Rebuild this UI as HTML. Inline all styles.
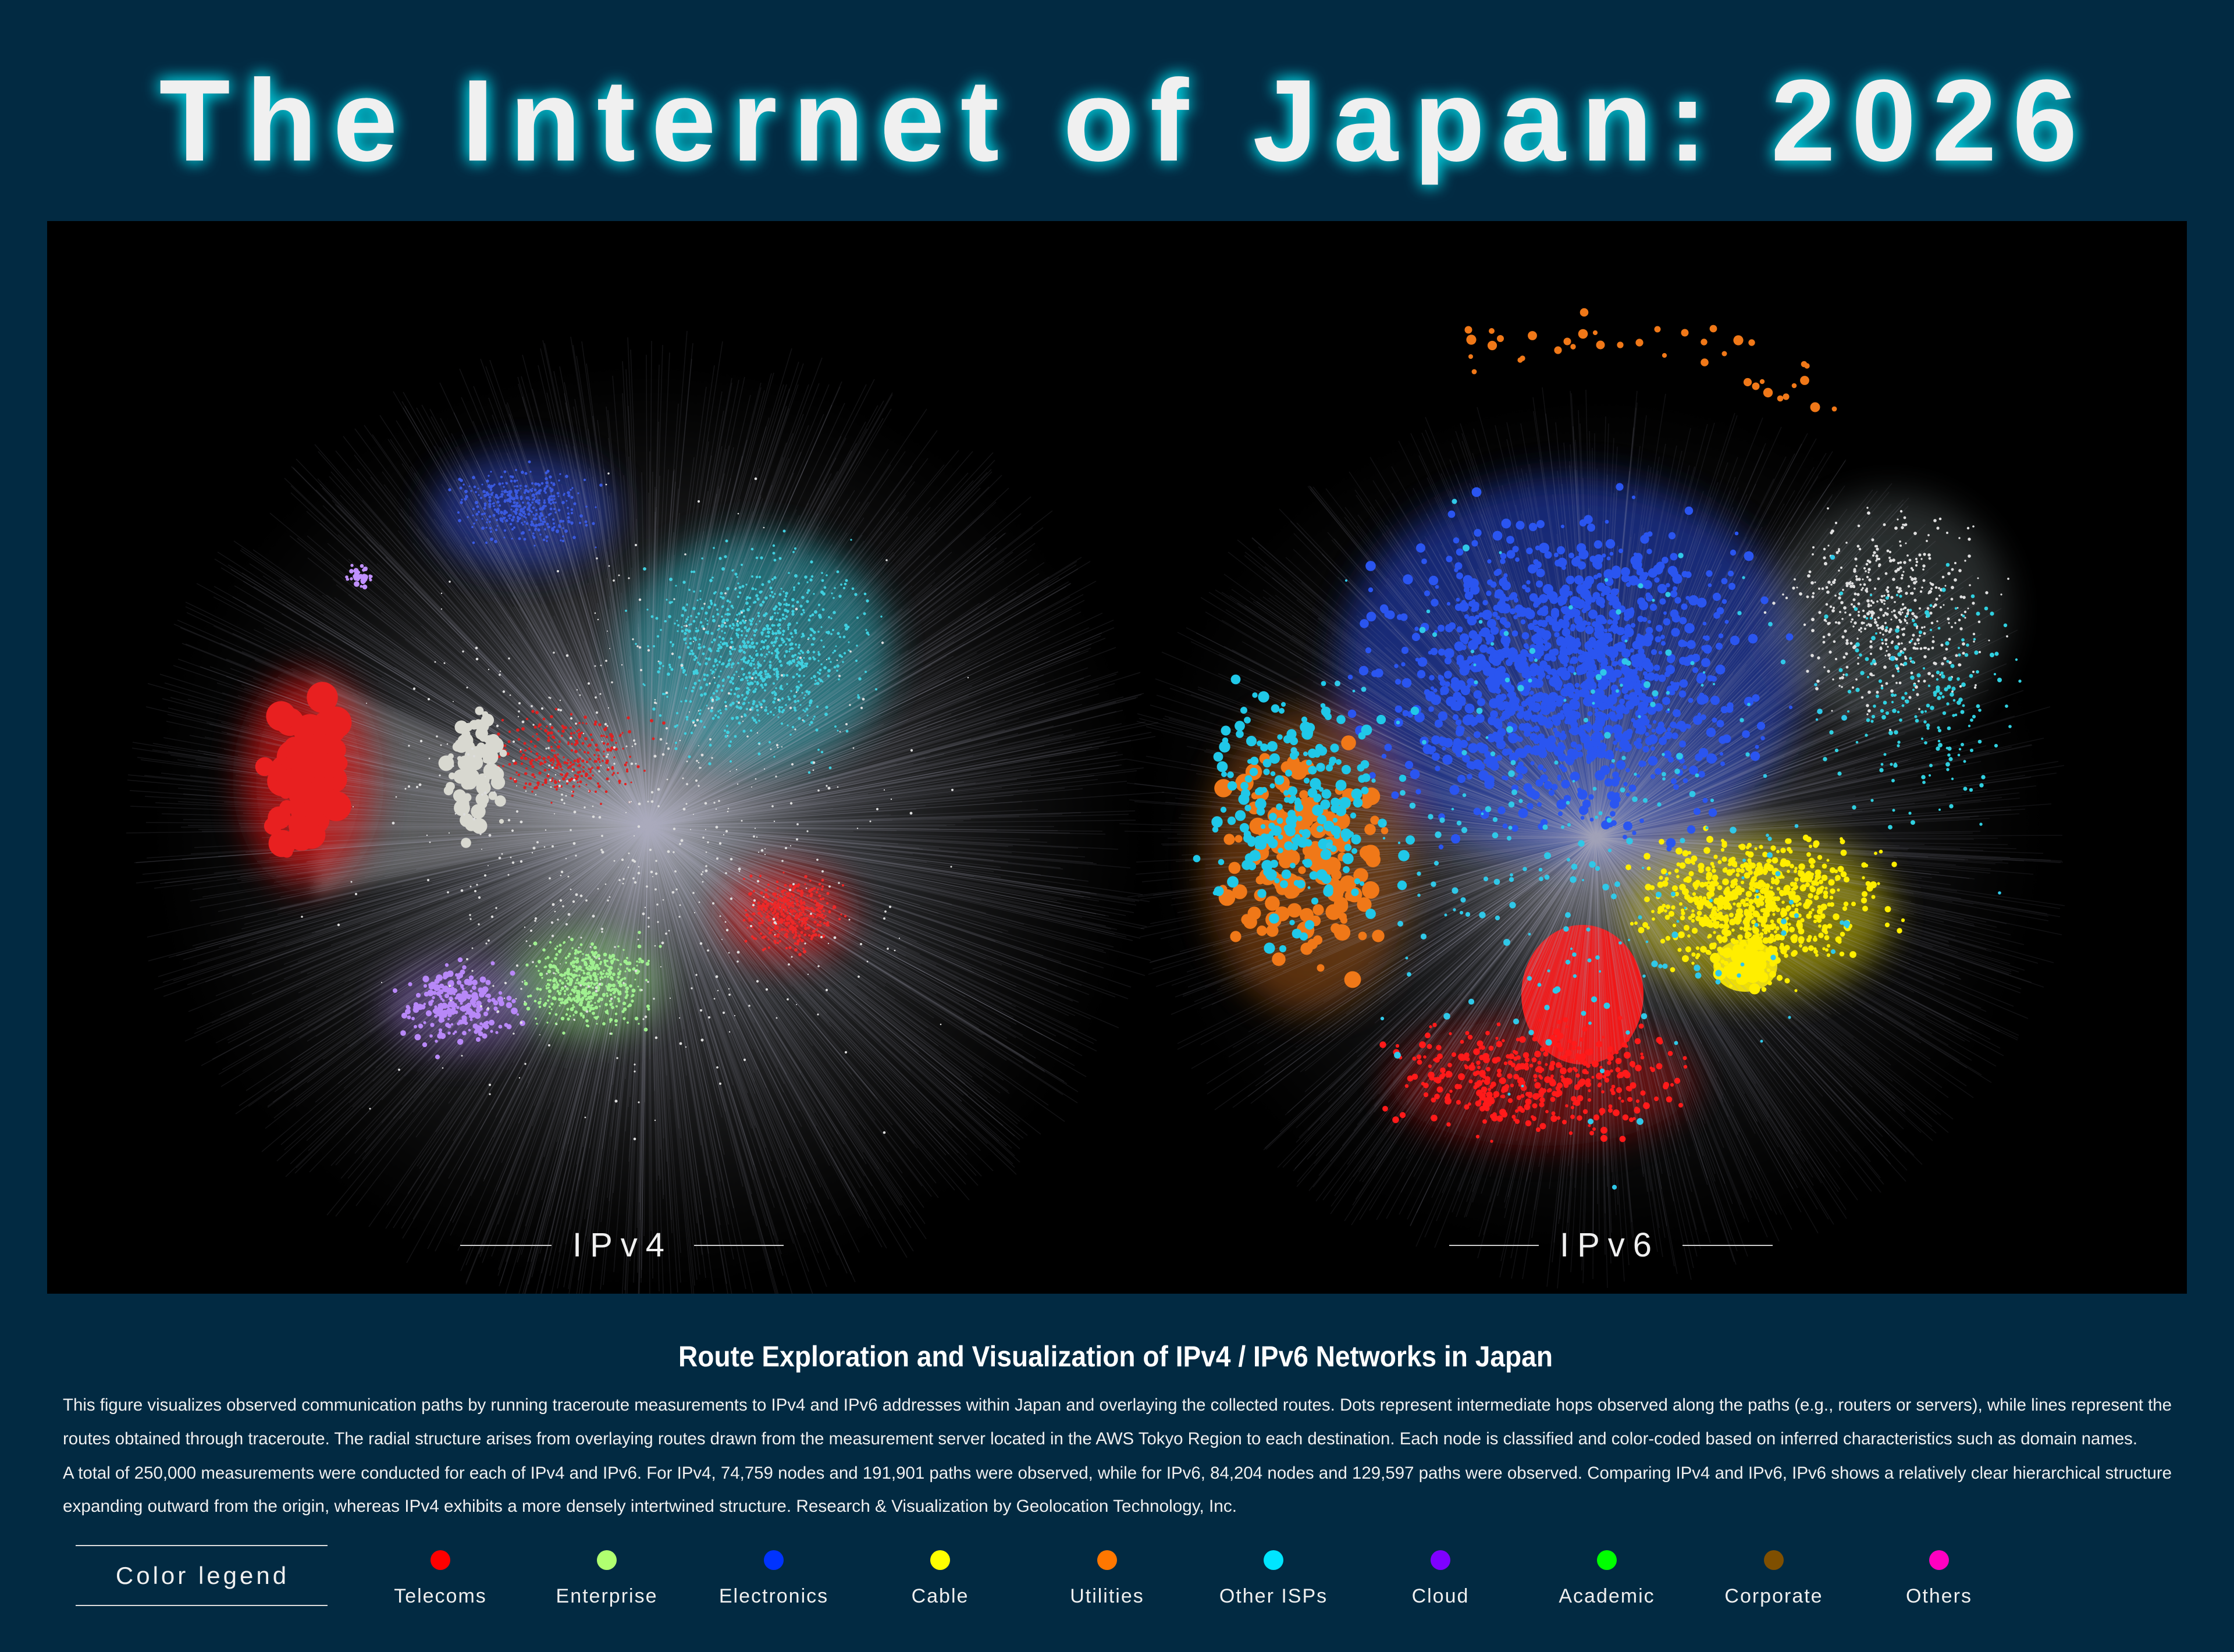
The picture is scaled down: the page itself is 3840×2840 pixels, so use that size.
<!DOCTYPE html>
<html><head><meta charset="utf-8">
<style>
html,body{margin:0;padding:0;background:#022a42;}
svg{display:block;}
text{font-family:"Liberation Sans","Noto Sans CJK JP",sans-serif;}
</style></head>
<body>
<svg id="s" width="3840" height="2840" viewBox="0 0 3840 2840" xmlns="http://www.w3.org/2000/svg">
<defs>
<filter id="glow" x="-10%" y="-30%" width="120%" height="160%">
<feGaussianBlur in="SourceAlpha" stdDeviation="14" result="b"/>
<feFlood flood-color="#00c8d8" flood-opacity="0.95"/>
<feComposite in2="b" operator="in" result="g"/>
<feMerge><feMergeNode in="g"/><feMergeNode in="g"/><feMergeNode in="SourceGraphic"/></feMerge>
</filter>
<filter id="blur" x="-50%" y="-50%" width="200%" height="200%"><feGaussianBlur stdDeviation="30"/></filter>
<filter id="sblur" x="-20%" y="-20%" width="140%" height="140%"><feGaussianBlur stdDeviation="12"/></filter>
<clipPath id="panel"><rect x="81" y="380" width="3678" height="1844"/></clipPath>
<radialGradient id="grey4"><stop offset="0" stop-color="#c8ccd4" stop-opacity="0.8"/><stop offset="0.35" stop-color="#8a8e96" stop-opacity="0.4"/><stop offset="1" stop-color="#333" stop-opacity="0"/></radialGradient>
<radialGradient id="grey6"><stop offset="0" stop-color="#c0c4cc" stop-opacity="0.7"/><stop offset="0.4" stop-color="#777a82" stop-opacity="0.3"/><stop offset="1" stop-color="#333" stop-opacity="0"/></radialGradient>
<linearGradient id="cone" x1="0" y1="0" x2="1" y2="0"><stop offset="0" stop-color="#999" stop-opacity="0.5"/><stop offset="1" stop-color="#ccc" stop-opacity="0.15"/></linearGradient>
</defs>
<rect width="3840" height="2840" fill="#022a42"/>
<text x="1922" y="276" font-size="200" font-weight="bold" fill="#f0f0f0" text-anchor="middle" textLength="3297" lengthAdjust="spacing" filter="url(#glow)">The Internet of Japan: 2026</text>
<rect x="81" y="380" width="3678" height="1844" fill="#000"/>
<g clip-path="url(#panel)">
<g id="net">
<ellipse cx="1114" cy="1420" rx="860" ry="800" fill="url(#grey4)"/>
<ellipse cx="2743" cy="1420" rx="780" ry="740" fill="url(#grey6)"/>
<polygon points="540,1160 1114,1420 540,1540" fill="url(#cone)" filter="url(#sblur)"/>
<g filter="url(#blur)" opacity="0.75">
<ellipse cx="1300" cy="1120" rx="230" ry="200" fill="#2fb5c5" opacity="0.7"/>
<ellipse cx="900" cy="880" rx="160" ry="100" fill="#3048c0" opacity="0.8"/>
<ellipse cx="530" cy="1340" rx="110" ry="180" fill="#d01818"/>
<ellipse cx="1350" cy="1570" rx="110" ry="80" fill="#d01818"/>
<ellipse cx="1010" cy="1690" rx="130" ry="90" fill="#80c870" opacity="0.8"/>
<ellipse cx="790" cy="1730" rx="130" ry="80" fill="#9a70d8" opacity="0.6"/>
<ellipse cx="2700" cy="1150" rx="400" ry="330" fill="#2040c8" opacity="0.75"/>
<ellipse cx="2250" cy="1480" rx="180" ry="260" fill="#d06a18" opacity="0.55"/>
<ellipse cx="3020" cy="1570" rx="230" ry="140" fill="#d8cc00" opacity="0.7"/>
<ellipse cx="2650" cy="1860" rx="260" ry="110" fill="#c01010" opacity="0.6"/>
<ellipse cx="3250" cy="1050" rx="200" ry="200" fill="#9aa" opacity="0.35"/>
</g>
<ellipse cx="2720" cy="1710" rx="105" ry="120" fill="#f01818"/>
<ellipse cx="3000" cy="1660" rx="55" ry="45" fill="#f0e000"/>
</g>
<g id="dots"></g>
</g>
<g stroke="#ccc" stroke-width="2">
<line x1="791" y1="2141" x2="948" y2="2141"/><line x1="1193" y1="2141" x2="1347" y2="2141"/>
<line x1="2491" y1="2141" x2="2645" y2="2141"/><line x1="2892" y1="2141" x2="3047" y2="2141"/>
</g>
<text x="1070" y="2160" font-size="58" fill="#f0f0f0" text-anchor="middle" letter-spacing="14">IPv4</text>
<text x="2767" y="2160" font-size="58" fill="#f0f0f0" text-anchor="middle" letter-spacing="14">IPv6</text>
<text x="1166" y="2349" font-size="50" font-weight="bold" fill="#fff" textLength="1503" lengthAdjust="spacingAndGlyphs">Route Exploration and Visualization of IPv4 / IPv6 Networks in Japan</text>
<g font-size="30" fill="#f0f0f0">
<text x="108" y="2425" textLength="3625" lengthAdjust="spacingAndGlyphs">This figure visualizes observed communication paths by running traceroute measurements to IPv4 and IPv6 addresses within Japan and overlaying the collected routes. Dots represent intermediate hops observed along the paths (e.g., routers or servers), while lines represent the</text>
<text x="108" y="2483" textLength="3566" lengthAdjust="spacingAndGlyphs">routes obtained through traceroute. The radial structure arises from overlaying routes drawn from the measurement server located in the AWS Tokyo Region to each destination. Each node is classified and color-coded based on inferred characteristics such as domain names.</text>
<text x="108" y="2542" textLength="3625" lengthAdjust="spacingAndGlyphs">A total of 250,000 measurements were conducted for each of IPv4 and IPv6. For IPv4, 74,759 nodes and 191,901 paths were observed, while for IPv6, 84,204 nodes and 129,597 paths were observed. Comparing IPv4 and IPv6, IPv6 shows a relatively clear hierarchical structure</text>
<text x="108" y="2599" textLength="2018" lengthAdjust="spacingAndGlyphs">expanding outward from the origin, whereas IPv4 exhibits a more densely intertwined structure.    Research &amp; Visualization by Geolocation Technology, Inc.</text>
</g>
<g stroke="#ddd" stroke-width="2"><line x1="130" y1="2657" x2="563" y2="2657"/><line x1="130" y1="2760" x2="563" y2="2760"/></g>
<text x="348" y="2723" font-size="42" fill="#f0f0f0" text-anchor="middle" letter-spacing="5">Color legend</text>
<g id="leg" font-size="34" fill="#f0f0f0" text-anchor="middle" letter-spacing="2">
<circle cx="757" cy="2682" r="17" fill="#ff0000"/><text x="757" y="2755">Telecoms</text>
<circle cx="1043" cy="2682" r="17" fill="#b0ff70"/><text x="1043" y="2755">Enterprise</text>
<circle cx="1330" cy="2682" r="17" fill="#0033ff"/><text x="1330" y="2755">Electronics</text>
<circle cx="1616" cy="2682" r="17" fill="#ffff00"/><text x="1616" y="2755">Cable</text>
<circle cx="1903" cy="2682" r="17" fill="#ff7700"/><text x="1903" y="2755">Utilities</text>
<circle cx="2189" cy="2682" r="17" fill="#00e5ff"/><text x="2189" y="2755">Other ISPs</text>
<circle cx="2476" cy="2682" r="17" fill="#7f00ff"/><text x="2476" y="2755">Cloud</text>
<circle cx="2762" cy="2682" r="17" fill="#00ff00"/><text x="2762" y="2755">Academic</text>
<circle cx="3049" cy="2682" r="17" fill="#7f4f00"/><text x="3049" y="2755">Corporate</text>
<circle cx="3333" cy="2682" r="17" fill="#ff00c0"/><text x="3333" y="2755">Others</text>
</g>
</svg>
<script>
(function(){
var seed=12345;function r(){seed=(seed*1103515245+12345)%2147483648;return seed/2147483648;}
function g(){return (r()+r()+r()-1.5)/1.5;}
var out=[];
function lines(cx,cy,R,n,op){for(var i=0;i<n;i++){var a=r()*6.283,d=R*(0.3+0.7*Math.sqrt(r()));out.push('<line x1="'+cx+'" y1="'+cy+'" x2="'+(cx+Math.cos(a)*d).toFixed(0)+'" y2="'+(cy+Math.sin(a)*d*0.95).toFixed(0)+'" stroke="#aab" stroke-opacity="'+op+'" stroke-width="1.5"/>');}}
function cl(cx,cy,rx,ry,col,n,s0,s1){for(var i=0;i<n;i++){var x=cx+g()*rx,y=cy+g()*ry,s=s0+r()*(s1-s0);out.push('<circle cx="'+x.toFixed(0)+'" cy="'+y.toFixed(0)+'" r="'+s.toFixed(1)+'" fill="'+col+'"/>');}}
function arc(cx,cy,R,a0,a1,col,n,s0,s1){for(var i=0;i<n;i++){var a=a0+r()*(a1-a0),d=R*(0.95+0.1*r());out.push('<circle cx="'+(cx+Math.cos(a)*d).toFixed(0)+'" cy="'+(cy+Math.sin(a)*d).toFixed(0)+'" r="'+(s0+r()*(s1-s0)).toFixed(1)+'" fill="'+col+'"/>');}}
lines(1114,1420,900,1800,0.11);lines(2743,1440,820,1500,0.1);
cl(1300,1120,250,220,"#40d0e0",900,1.5,3);
cl(900,870,150,90,"#3a5ae0",400,1.5,3);
cl(530,1340,100,180,"#e82020",70,10,30);
cl(1360,1570,110,80,"#ee2828",400,1.5,3);
cl(980,1300,180,100,"#e02020",300,1.5,3);
cl(820,1320,80,140,"#d8d8d0",80,4,14);
cl(1010,1690,140,100,"#a0f090",500,1.5,3.5);
cl(790,1730,130,90,"#b888f8",220,2,6);
cl(620,990,30,25,"#c090ff",40,2,5);
cl(1114,1420,650,650,"#ddd",600,1,2.5);
cl(2700,1160,420,340,"#2a55f0",1300,3,9);
cl(2250,1470,200,260,"#f07818",160,6,16);
cl(2230,1400,230,300,"#20c8e8",220,4,10);
cl(2650,1850,320,130,"#ff1a1a",400,2.5,6);
cl(3020,1560,260,160,"#ffee00",700,2.5,6);
cl(3000,1660,60,50,"#ffee00",60,6,12);
cl(3250,1050,230,230,"#e0e0e0",500,1.5,3);
cl(3300,1200,220,300,"#30d0e0",200,2,4);
arc(2743,1440,860,-1.85,-1.05,"#f07818",40,4,9);
cl(2743,1440,720,680,"#30c8e8",250,2,6);
document.getElementById("dots").innerHTML=out.join("");
})();
</script>
</body></html>
